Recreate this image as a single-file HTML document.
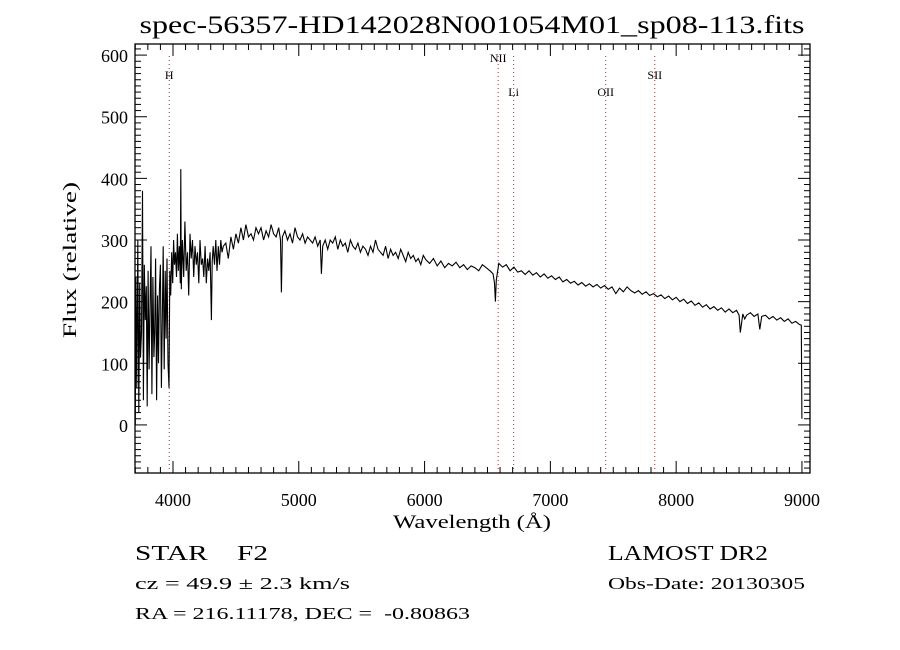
<!DOCTYPE html>
<html><head><meta charset="utf-8"><style>
html,body{margin:0;padding:0;background:#fff;width:900px;height:650px;overflow:hidden}
text{font-family:"Liberation Serif",serif;fill:#000;white-space:pre}
</style></head><body>
<svg id="chart" width="900" height="650" viewBox="0 0 900 650" xmlns="http://www.w3.org/2000/svg" xml:space="preserve">
<rect width="900" height="650" fill="#fff"/>
<text x="472" y="33" font-size="25" text-anchor="middle" textLength="665" lengthAdjust="spacingAndGlyphs">spec-56357-HD142028N001054M01_sp08-113.fits</text>
<g id="axes"></g>
<g id="lines"></g>
<path id="spec" fill="none" stroke="#000" stroke-width="1.1"/>
<text x="472" y="528" font-size="19" text-anchor="middle" textLength="158" lengthAdjust="spacingAndGlyphs">Wavelength (Å)</text>
<text transform="translate(76,260) rotate(-90)" font-size="19" text-anchor="middle" textLength="156" lengthAdjust="spacingAndGlyphs">Flux (relative)</text>
<text x="135" y="560" font-size="21" textLength="133" lengthAdjust="spacingAndGlyphs">STAR    F2</text>
<text x="608" y="560" font-size="21" textLength="160" lengthAdjust="spacingAndGlyphs">LAMOST DR2</text>
<text x="135" y="589" font-size="17" textLength="215" lengthAdjust="spacingAndGlyphs">cz = 49.9 ± 2.3 km/s</text>
<text x="608" y="589" font-size="17" textLength="197" lengthAdjust="spacingAndGlyphs">Obs-Date: 20130305</text>
<text x="135" y="619" font-size="17" textLength="335" lengthAdjust="spacingAndGlyphs">RA = 216.11178, DEC =  -0.80863</text>
</svg>
<script>
const xTicks=[4000,5000,6000,7000,8000,9000];
const yTicks=[0,100,200,300,400,500,600];
const lineNames=["H","NII","Li","OII","SII"];
const lineWaves=[3970,6585,6708,7440,7830];
const lineLabelRow=[1,0,2,2,1];
const wave=[3700,3705,3712,3720,3728,3735,3742,3750,3758,3765,3772,3780,3788,3795,3802,3810,3818,3825,3832,3840,3848,3855,3862,3870,3878,3885,3892,3900,3908,3915,3922,3930,3938,3945,3952,3960,3968,3975,3982,3990,3998,4005,4012,4020,4028,4035,4042,4050,4058,4062,4066,4075,4085,4095,4105,4115,4125,4135,4145,4155,4165,4175,4185,4195,4205,4215,4225,4235,4245,4255,4265,4275,4285,4295,4305,4312,4320,4330,4340,4350,4360,4370,4380,4390,4400,4420,4440,4460,4480,4500,4520,4540,4560,4580,4600,4620,4640,4660,4680,4700,4720,4740,4760,4780,4800,4820,4840,4855,4862,4870,4890,4910,4930,4950,4970,4990,5010,5030,5050,5070,5090,5110,5130,5150,5170,5180,5190,5210,5230,5250,5270,5290,5310,5330,5350,5370,5390,5410,5430,5450,5470,5490,5510,5530,5550,5570,5590,5610,5630,5650,5670,5690,5710,5730,5750,5770,5790,5810,5830,5850,5870,5890,5910,5930,5950,5970,5990,
6010,6040,6070,6100,6130,6160,6190,6220,6250,6280,
6310,6340,6370,6400,6430,6460,6490,6520,6545,6556,
6563,6570,6590,6620,6650,6680,6710,6740,6770,6800,
6830,6860,6890,6920,6950,6980,7010,7040,7070,7100,
7130,7160,7190,7220,7250,7280,7310,7340,7370,7400,
7430,7460,7490,7520,7550,7580,7610,7640,7670,7700,
7730,7760,7790,7820,7850,7880,7910,7940,7970,8000,
8030,8060,8090,8120,8150,8180,8210,8240,8270,8300,
8330,8360,8390,8420,8450,8480,8500,8510,8530,8545,
8560,8590,8620,8650,8665,8680,8710,8740,8770,8800,
8830,8860,8890,8920,8950,8980,8995,9000];
const flux=[0,240,60,300,20,230,110,150,380,40,260,170,225,30,250,90,200,290,50,240,110,150,270,40,210,100,220,260,60,170,290,90,250,140,270,100,60,250,210,280,230,300,260,280,240,310,250,290,230,415,220,300,240,330,250,280,210,310,270,300,240,290,260,280,230,300,260,270,240,290,230,270,250,280,170,265,290,260,300,250,290,260,300,280,290,295,270,305,285,310,295,320,300,325,305,310,300,320,310,320,300,315,305,325,310,305,320,300,215,305,315,300,310,295,320,305,300,310,295,305,300,295,305,290,300,245,290,300,285,300,295,305,285,300,290,295,280,300,290,285,295,280,290,285,275,290,280,300,285,280,275,290,270,285,275,280,270,285,275,265,280,270,275,265,270,260,275,
268,262,270,258,266,255,262,258,264,255,
260,252,258,255,250,260,255,250,245,230,
200,235,262,256,260,250,256,248,250,244,
250,243,247,240,245,238,242,236,240,232,
236,230,233,227,231,225,229,224,228,222,
226,220,224,213,222,216,224,218,214,218,
212,216,210,213,208,211,205,209,203,207,
200,204,197,201,194,198,191,195,188,192,
186,190,183,188,182,186,178,150,180,172,
178,182,176,180,155,176,178,172,176,170,
174,168,172,165,168,163,162,10];
const X0=3698,X1=9064,PX0=135,PX1=810,Y0=-78,Y1=618,PY0=473,PY1=44;
const xs=v=>PX0+(v-X0)/(X1-X0)*(PX1-PX0);
const ys=v=>PY0-(v-Y0)/(Y1-Y0)*(PY0-PY1);
const NS="http://www.w3.org/2000/svg";
function mk(tag,attrs,parent){const e=document.createElementNS(NS,tag);for(const k in attrs)e.setAttribute(k,attrs[k]);parent.appendChild(e);return e;}
const axes=document.getElementById('axes');
const frame=mk('rect',{x:PX0,y:PY1,width:PX1-PX0,height:PY0-PY1,fill:'none',stroke:'#000','stroke-width':1.3},axes);


for(let w=3700;w<=9060;w+=100){const x=xs(w);const maj=w%1000===0;const L=maj?12:6;
 const t1=mk('line',{x1:x,x2:x,y1:PY0,y2:PY0-L,stroke:'#000'},axes);
 
 
 const t2=mk('line',{x1:x,x2:x,y1:PY1,y2:PY1+L,stroke:'#000'},axes);
 
 }
for(let v=-70;v<=610;v+=10){const y=ys(v);const maj=v%100===0;const L=maj?12:6;
 const t1=mk('line',{x1:PX0,x2:PX0+L,y1:y,y2:y,stroke:'#000'},axes);
 
 
 const t2=mk('line',{x1:PX1,x2:PX1-L,y1:y,y2:y,stroke:'#000'},axes);
 
 }
xTicks.forEach(v=>{const t=mk('text',{x:xs(v),y:506,'font-size':18,'text-anchor':'middle','font-family':'Liberation Sans'},axes);t.textContent=v;
 
 });
yTicks.forEach(v=>{const t=mk('text',{x:128,y:ys(v)+7,'font-size':18,'text-anchor':'end','font-family':'Liberation Sans'},axes);t.textContent=v;
 
 });
const lines=document.getElementById('lines');
const rowY2=[62,79,96];
lineNames.forEach((n,i)=>{const x=xs(lineWaves[i]);
 const l=mk('line',{x1:x,x2:x,y1:PY1+12,y2:PY0,stroke:'#8a3a3a','stroke-width':1,'stroke-dasharray':'1 3'},lines);
 
 
 const t=mk('text',{x:x,y:rowY2[lineLabelRow[i]],'font-size':12,'text-anchor':'middle'},lines);t.textContent=n;
 
 });
let d='';const n=Math.min(wave.length,flux.length);
for(let i=0;i<n;i++){d+=(i?'L':'M')+xs(wave[i]).toFixed(1)+' '+ys(flux[i]).toFixed(1);}
document.getElementById('spec').setAttribute('d',d);
</script>
</body></html>
